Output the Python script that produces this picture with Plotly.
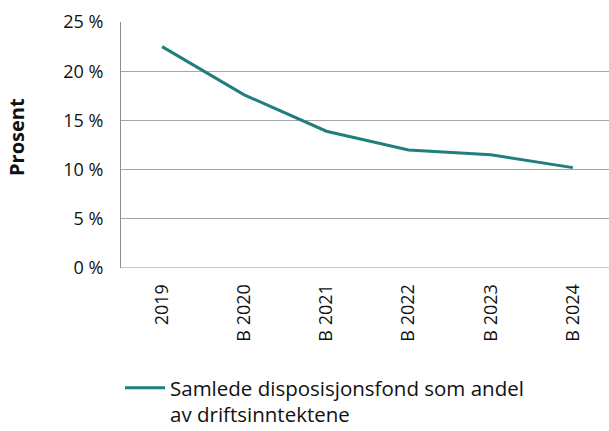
import plotly.graph_objects as go

categories = ["2019", "B 2020", "B 2021", "B 2022", "B 2023", "B 2024"]
values = [22.5, 17.6, 13.9, 12.0, 11.5, 10.2]
series_name = "Samlede disposisjonsfond som andel<br>av driftsinntektene"
y_ticks = [0, 5, 10, 15, 20, 25]
y_tick_text = ["0 %", "5 %", "10 %", "15 %", "20 %", "25 %"]
y_title = "Prosent"

W, H = 609, 431
L, R, T, B = 121, 0, 22, 163
PW, PH = W - L - R, H - T - B

fig = go.Figure()
fig.add_trace(go.Scatter(
    x=categories, y=values, mode="lines", name=series_name,
    line=dict(color="#217E7C", width=3),
))

font = "Open Sans, Liberation Sans, sans-serif"
fig.update_layout(
    width=W, height=H,
    margin=dict(l=L, r=R, t=T, b=B, pad=0, autoexpand=False),
    paper_bgcolor="white", plot_bgcolor="white",
    font=dict(family=font, size=18, color="#111"),
    showlegend=True,
    legend=dict(
        xref="container", yref="container",
        x=120 / W, y=1 - 368 / H,
        xanchor="left", yanchor="top",
        font=dict(size=20.5, family=font, color="#111"),
        bgcolor="rgba(0,0,0,0)", valign="top", itemwidth=40,
    ),
    xaxis=dict(
        type="category", range=[-0.5, 5.44],
        showgrid=False, showline=False, zeroline=False,
        tickangle=-90, ticks="outside", ticklen=8, tickcolor="rgba(0,0,0,0)",
        tickfont=dict(size=18, family=font),
    ),
    yaxis=dict(
        range=[0, 25], tickvals=y_ticks, ticktext=y_tick_text,
        showgrid=True, gridcolor="#A6A6A6", gridwidth=1,
        showline=True, linecolor="#8C8C8C", linewidth=1,
        zeroline=False,
        ticks="outside", ticklen=13, tickcolor="rgba(0,0,0,0)",
        tickfont=dict(size=18, family=font),
    ),
)
fig.add_annotation(
    text="<b>" + y_title + "</b>", textangle=-90, showarrow=False,
    xref="paper", yref="paper", x=(16 - L) / PW, y=(268 - 137) / PH,
    xanchor="center", yanchor="middle", font=dict(size=20, family=font, color="#111"),
)
fig.add_shape(type="line", xref="paper", yref="y", x0=0, x1=1, y0=0, y1=0,
              line=dict(color="#8C8C8C", width=1))

fig.write_html("out.html", config={"displayModeBar": False},
               post_script="document.body.style.margin='0';")
